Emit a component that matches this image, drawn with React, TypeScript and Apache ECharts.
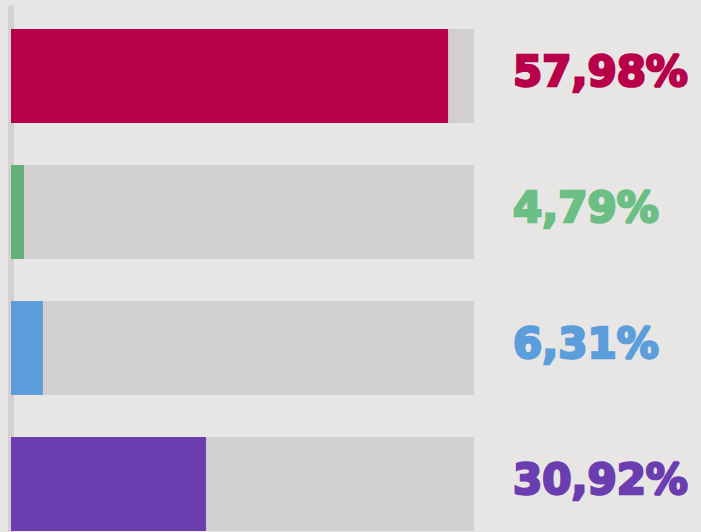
import React, { useEffect, useRef } from "react";
import * as echarts from "echarts";

const categories = ["A", "B", "C", "D"];
const barValues = [94.4, 2.8, 6.9, 42.1];
const labels = ["57,98%", "4,79%", "6,31%", "30,92%"];
const colors = ["#b8004a", "#66ad78", "#5b9edb", "#6a3db0"];
const labelColors = ["#b8004a", "#6cbf84", "#5b9edb", "#6a3db0"];
const trackMax = 100;

export default function App() {
  const ref = useRef<HTMLDivElement>(null);
  useEffect(() => {
    document.body.style.margin = "0";
    document.body.style.overflow = "hidden";
    document.body.style.background = "#e7e6e4";
    const chart = echarts.init(ref.current!, null, { renderer: "svg" });
    chart.setOption({
      animation: false,
      backgroundColor: "#e7e6e4",
      grid: { left: 11, right: 227, top: 8, height: 544, containLabel: false },
      xAxis: {
        type: "value",
        min: 0,
        max: trackMax,
        show: false,
      },
      yAxis: {
        type: "category",
        data: categories,
        inverse: true,
        axisLine: { show: true, lineStyle: { color: "#d3d2d0", width: 6 } },
        axisTick: { show: false },
        axisLabel: { show: false },
        splitLine: { show: false },
      },
      series: [
        {
          type: "bar",
          barWidth: 94,
          silent: true,
          z: 1,
          data: categories.map((_, i) => ({
            value: trackMax,
            label: { color: labelColors[i], textBorderColor: labelColors[i] },
          })),
          itemStyle: { color: "#d1d0ce" },
          label: {
            show: true,
            position: "right",
            distance: 39,
            offset: [0, -5],
            fontFamily: "DejaVu Sans",
            fontWeight: "bold",
            fontSize: 42,
            textBorderWidth: 2.5,
            formatter: (p: any) => labels[p.dataIndex],
          },
        },
        {
          type: "bar",
          barWidth: 94,
          barGap: "-100%",
          z: 2,
          data: barValues.map((v, i) => ({ value: v, itemStyle: { color: colors[i] } })),
        },
      ],
    });
    return () => chart.dispose();
  }, []);
  return <div ref={ref} style={{ width: 701, height: 560 }} />;
}
